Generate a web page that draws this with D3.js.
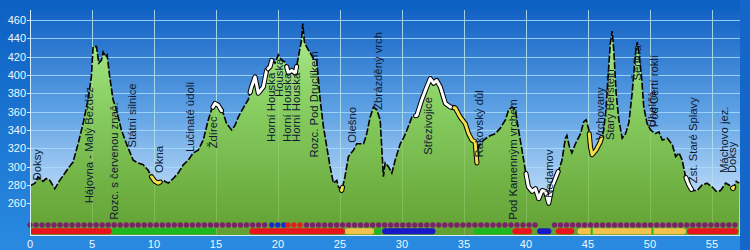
<!DOCTYPE html>
<html>
<head>
<meta charset="utf-8">
<script src="https://cdn.jsdelivr.net/npm/d3@7"></script>
<style>
  body { margin: 0; background: #1a6fcc; }
  svg { display: block; font-family: "Liberation Sans", Arial, sans-serif; }
</style>
</head>
<body>
<div id="chart"></div>
<script>
/*   elevation profile data   */
var profileKm = [0, 0.4, 0.65, 1.05, 1.3, 1.6, 2.0, 2.4, 3.07, 3.47, 3.88, 4.28, 4.68, 4.95, 5.09, 5.36, 5.55, 5.76, 5.9, 6.08,
  6.22, 6.43, 6.7, 6.97, 7.37, 7.78, 8.32, 8.72, 9.13, 9.53, 9.8, 10.07, 10.34, 10.74, 11.15, 11.55, 11.95, 12.36, 12.76, 13.16,
  13.57, 13.97, 14.38, 14.64, 14.92, 15.18, 15.59, 15.85, 16.26, 16.53, 16.8, 17.2, 17.6, 17.87, 18.15, 18.41, 18.82, 19.08, 19.36, 19.5,
  19.76, 20.03, 20.3, 20.6, 20.84, 21.1, 21.4, 21.65, 21.9, 22.0, 22.13, 22.3, 22.6, 22.86, 23.12, 23.4, 23.66, 23.93, 24.2, 24.47,
  24.74, 24.87, 25.14, 25.4, 25.68, 26.09, 26.35, 26.9, 27.16, 27.43, 27.7, 27.97, 28.24, 28.5, 28.64, 28.91, 29.18, 29.45, 29.86, 30.12,
  30.4, 30.8, 31.2, 31.6, 32.0, 32.28, 32.55, 32.8, 33.09, 33.5, 33.9, 34.3, 34.7, 35.1, 35.37, 35.64, 35.9, 36.04, 36.18, 36.58,
  36.99, 37.53, 37.93, 38.34, 38.6, 38.87, 39.14, 39.4, 39.68, 39.95, 40.2, 40.5, 40.76, 41.03, 41.3, 41.57, 41.84, 42.1, 42.37, 42.64,
  42.9, 43.18, 43.3, 43.5, 43.7, 43.99, 44.4, 44.66, 44.85, 45.07, 45.2, 45.33, 45.65, 46.0, 46.27, 46.45, 46.62, 46.8, 46.95, 47.08,
  47.27, 47.49, 47.76, 48.03, 48.3, 48.56, 48.7, 48.84, 48.97, 49.1, 49.32, 49.5, 49.77, 50.05, 50.45, 50.72, 50.99, 51.4, 51.8, 52.07,
  52.34, 52.6, 52.87, 53.14, 53.4, 53.8, 54.2, 54.6, 55.0, 55.35, 55.7, 56.1, 56.37, 56.7, 56.96, 57.2];
var profileElev = [279, 282, 289, 284, 287, 285, 276, 285, 298, 305, 325, 347, 373, 398, 431, 431, 413, 416, 425, 420,
  422, 398, 373, 362, 340, 325, 307, 304, 302, 296, 289, 284, 282, 285, 282, 287, 293, 302, 307, 315,
  318, 329, 351, 362, 369, 367, 358, 347, 340, 345, 354, 364, 373, 387, 398, 380, 387, 405, 409, 416,
  413, 422, 416, 414, 402, 405, 402, 420, 438, 456, 436, 431, 424, 418, 416, 373, 344, 322, 300, 282,
  285, 278, 274, 289, 311, 318, 325, 325, 336, 354, 365, 362, 351, 289, 304, 300, 293, 307, 325, 331,
  340, 354, 356, 373, 387, 396, 391, 394, 387, 369, 365, 364, 354, 347, 336, 329, 327, 304, 322, 329,
  333, 336, 342, 351, 362, 365, 362, 340, 318, 296, 278, 273, 276, 265, 274, 273, 260, 278, 287, 296,
  307, 331, 334, 322, 315, 325, 336, 349, 351, 340, 322, 313, 318, 327, 340, 362, 398, 434, 448, 427,
  380, 351, 331, 336, 348, 380, 402, 424, 436, 424, 398, 365, 347, 340, 336, 338, 329, 331, 324, 311,
  315, 307, 289, 280, 274, 274, 280, 282, 278, 273, 274, 282, 280, 276, 284, 282];

// trail surface highlights on the profile line [from km, to km, colour]
var lineHighlights = [
  [9.8, 10.5, "#f4e04a"], [14.75, 15.45, "#ffffff"], [17.75, 19.1, "#ffffff"], [19.2, 19.5, "#ffffff"],
  [20.7, 21.5, "#ffffff"], [25.1, 25.2, "#f4e04a"], [31.1, 34.2, "#ffffff"], [34.2, 36.05, "#f4e04a"],
  [40.0, 42.6, "#ffffff"], [45.1, 46.1, "#f4e04a"], [52.9, 53.35, "#ffffff"], [56.65, 56.75, "#f4e04a"]
];

// place labels [name, km, elevation at text bottom]
var placeNames = ["Doksy", "Hájovna - Malý Bezděz", "Rozc. s červenou znač.", "Státní silnice", "Okna", "Lučinaté údolí",
  "Ždírec", "Horní Houska", "Houska", "Horní Houska", "Horní Houska", "Rozc. Pod Druclíkem", "Olešno", "Zbrázděný vrch",
  "Střezivojice", "Rakovský důl", "Pod Kamenným vrchem", "Nedamov", "Vrchovany", "Starý Berštejn", "Šedina", "Úhelná",
  "Pod Čertí roklí", "Zst. Staré Splavy", "Máchovo jez.", "Doksy"];
var placeKm = [0.85, 5.05, 7.1, 8.56, 10.7, 13.25, 15.1, 19.75, 20.4, 21.08, 21.77, 23.2, 26.3, 28.35,
  32.4, 36.5, 39.25, 42.2, 46.3, 47.1, 49.3, 50.45, 50.65, 53.8, 56.3, 56.95];
var placeElev = [285, 260, 242, 321, 293, 316, 320, 327, 376, 327, 327, 310, 326, 362,
  313, 310, 242, 266, 329, 329, 394, 343, 343, 282, 293, 293];

// marked route colour strip [from km, to km, colour]
var routeBars = [
  [0, 6.6, "#e8141c"], [6.6, 15.0, "#1db81f"], [17.7, 25.4, "#e8141c"], [25.4, 27.75, "#f2c24c"],
  [27.75, 28.3, "#1db81f"], [28.4, 32.7, "#1818c8"], [35.8, 38.85, "#1db81f"], [38.9, 40.5, "#e8141c"],
  [40.9, 42.05, "#1818c8"], [42.4, 43.9, "#e8141c"], [44.15, 52.9, "#f2c24c"], [53.0, 57.1, "#e8141c"]
];
var barMarks = [45.3, 50.2];

// waypoint dot runs [from km, to km, colour]
var dotRuns = [
  [0, 19.2, "#7a2468"], [19.5, 20.5, "#1a2ad0"], [20.8, 21.95, "#e02020"],
  [22.3, 41.2, "#7a2468"], [42.3, 56.9, "#7a2468"]
];

var xTicks = [0, 5, 10, 15, 20, 25, 30, 35, 40, 45, 50, 55];
var yTicks = [260, 280, 300, 320, 340, 360, 380, 400, 420, 440, 460];

var width = 750, height = 250;
var plot = {left: 30, right: 740, top: 10, bottom: 235};

var x = d3.scaleLinear().domain([0, 57.26]).range([plot.left, plot.right]);
var y = d3.scaleLinear().domain([260, 460]).range([203.3, 20]);

var svg = d3.select("#chart").append("svg")
  .attr("width", width)
  .attr("height", height);

var defs = svg.append("defs");
function vgrad(id, stops, y1, y2) {
  var g = defs.append("linearGradient").attr("id", id)
    .attr("gradientUnits", "userSpaceOnUse")
    .attr("x1", 0).attr("x2", 0).attr("y1", y1).attr("y2", y2);
  stops.forEach(function(s) { g.append("stop").attr("offset", s[0]).attr("stop-color", s[1]); });
}
vgrad("outer", [[0, "#0c60c2"], [1, "#2a8ae0"]], 0, height);
vgrad("sky", [[0, "#1262c4"], [0.45, "#5fa2e4"], [1, "#e4f2ff"]], plot.top, plot.bottom);
vgrad("land", [[0, "#b0ee94"], [0.35, "#8cd266"], [1, "#62a032"]], 20, plot.bottom);

svg.append("rect").attr("width", width).attr("height", height).attr("fill", "url(#outer)");
svg.append("rect").attr("x", plot.right).attr("y", 0).attr("width", width - plot.right).attr("height", height).attr("fill", "#1466c8");
svg.append("rect")
  .attr("x", plot.left).attr("y", plot.top)
  .attr("width", plot.right - plot.left).attr("height", plot.bottom - plot.top)
  .attr("fill", "url(#sky)");

// grid
var grid = svg.append("g").attr("stroke", "#a8dcff").attr("stroke-width", 1).attr("opacity", 0.85);
grid.selectAll("line.h").data(yTicks).enter().append("line")
  .attr("x1", plot.left).attr("x2", plot.right)
  .attr("y1", function(d) { return Math.round(y(d)) + 0.5; })
  .attr("y2", function(d) { return Math.round(y(d)) + 0.5; });
grid.selectAll("line.v").data(xTicks).enter().append("line")
  .attr("y1", plot.top).attr("y2", plot.bottom)
  .attr("x1", function(d) { return Math.round(x(d)) + 0.5; })
  .attr("x2", function(d) { return Math.round(x(d)) + 0.5; });

var pts = profileKm.map(function(k, i) { return [k, profileElev[i]]; });

var area = d3.area()
  .x(function(d) { return x(d[0]); })
  .y0(plot.bottom)
  .y1(function(d) { return y(d[1]); });
var line = d3.line()
  .x(function(d) { return x(d[0]); })
  .y(function(d) { return y(d[1]); });

svg.append("path").datum(pts).attr("d", area).attr("fill", "url(#land)");

// faint grid over the land too
svg.append("g").attr("stroke", "#c8f0b0").attr("stroke-width", 1).attr("opacity", 0.25)
  .selectAll("line").data(xTicks).enter().append("line")
  .attr("y1", plot.top).attr("y2", plot.bottom)
  .attr("x1", function(d) { return Math.round(x(d)) + 0.5; })
  .attr("x2", function(d) { return Math.round(x(d)) + 0.5; });

svg.append("path").datum(pts).attr("d", line)
  .attr("fill", "none").attr("stroke", "#000").attr("stroke-width", 1.6)
  .attr("stroke-dasharray", "7,2");

// highlighted stretches of the line
function segmentPts(a, b) {
  var interp = function(k) {
    var i = d3.bisectLeft(profileKm, k);
    if (i <= 0) return [k, profileElev[0]];
    if (i >= profileKm.length) return [k, profileElev[profileKm.length - 1]];
    var t = (k - profileKm[i - 1]) / (profileKm[i] - profileKm[i - 1]);
    return [k, profileElev[i - 1] + t * (profileElev[i] - profileElev[i - 1])];
  };
  var out = [interp(a)];
  profileKm.forEach(function(k, i) { if (k > a && k < b) out.push([k, profileElev[i]]); });
  out.push(interp(b));
  return out;
}
lineHighlights.forEach(function(h) {
  var seg = segmentPts(h[0], h[1]);
  svg.append("path").datum(seg).attr("d", line)
    .attr("fill", "none").attr("stroke", "#000").attr("stroke-width", 5)
    .attr("stroke-linecap", "round").attr("stroke-linejoin", "round");
  svg.append("path").datum(seg).attr("d", line)
    .attr("fill", "none").attr("stroke", h[2]).attr("stroke-width", 3)
    .attr("stroke-linecap", "round").attr("stroke-linejoin", "round");
});

// place labels
svg.append("g").selectAll("text")
  .data(placeNames).enter().append("text")
  .attr("transform", function(d, i) { return "translate(" + x(placeKm[i]) + "," + y(placeElev[i]) + ") rotate(-90)"; })
  .attr("font-size", "11.3px")
  .attr("fill", "#0c1830")
  .text(function(d) { return d; });

// route strip and dots
var dots = [];
dotRuns.forEach(function(r) {
  for (var k = r[0]; k <= r[1] + 0.001; k += 0.485) dots.push({km: k, c: r[2]});
});
svg.append("g").selectAll("circle").data(dots).enter().append("circle")
  .attr("cx", function(d) { return x(d.km); })
  .attr("cy", 225)
  .attr("r", 2.7)
  .attr("fill", function(d) { return d.c; });

svg.append("g").selectAll("rect").data(routeBars).enter().append("rect")
  .attr("x", function(d) { return x(d[0]); })
  .attr("y", 228.3)
  .attr("width", function(d) { return x(d[1]) - x(d[0]); })
  .attr("height", 6)
  .attr("rx", 3)
  .attr("fill", function(d) { return d[2]; });
svg.append("g").selectAll("rect").data(barMarks).enter().append("rect")
  .attr("x", function(d) { return x(d) - 1; })
  .attr("y", 228.3).attr("width", 2).attr("height", 6)
  .attr("fill", "#1db81f");

// axes
var axisCol = "#d8eeff";
svg.append("line").attr("x1", plot.left + 0.5).attr("x2", plot.left + 0.5)
  .attr("y1", plot.top).attr("y2", plot.bottom).attr("stroke", axisCol);
svg.append("line").attr("x1", plot.left).attr("x2", plot.right)
  .attr("y1", plot.bottom + 0.5).attr("y2", plot.bottom + 0.5).attr("stroke", axisCol);

var yAxis = svg.append("g");
yAxis.selectAll("line").data(yTicks).enter().append("line")
  .attr("x1", plot.left - 3).attr("x2", plot.left)
  .attr("y1", function(d) { return Math.round(y(d)) + 0.5; })
  .attr("y2", function(d) { return Math.round(y(d)) + 0.5; })
  .attr("stroke", axisCol);
yAxis.selectAll("text").data(yTicks).enter().append("text")
  .attr("x", plot.left - 4)
  .attr("y", function(d) { return y(d); })
  .attr("dy", "0.36em")
  .attr("text-anchor", "end")
  .attr("font-size", "11px")
  .attr("fill", "#eef7ff")
  .text(function(d) { return d; });

svg.append("g").selectAll("text").data(xTicks).enter().append("text")
  .attr("x", function(d) { return x(d); })
  .attr("y", 248)
  .attr("text-anchor", "middle")
  .attr("font-size", "11px")
  .attr("fill", "#eef7ff")
  .text(function(d) { return d; });
</script>
</body>
</html>
